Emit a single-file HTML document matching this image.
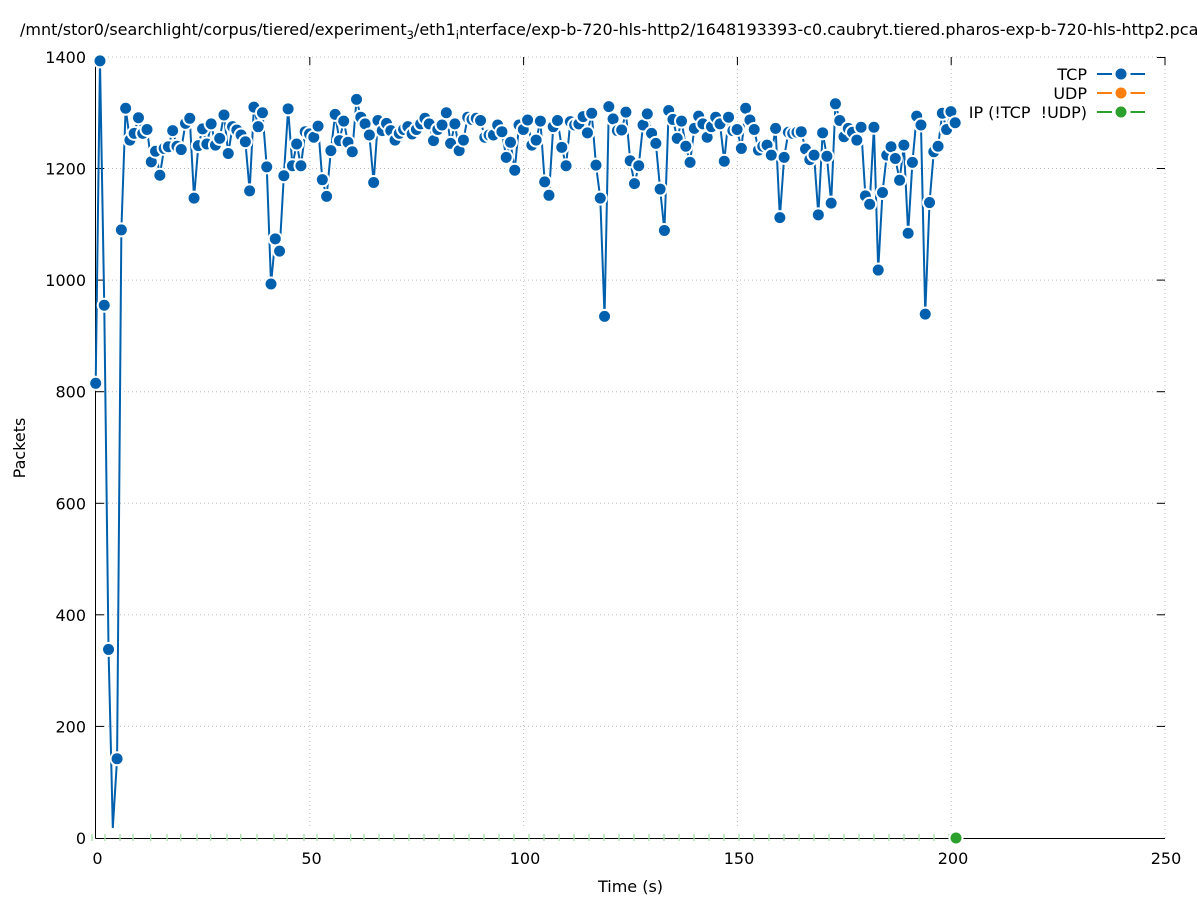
<!DOCTYPE html>
<html><head><meta charset="utf-8"><style>
html,body{margin:0;padding:0;background:#fff;overflow:hidden;width:1197px;height:900px}
svg{display:block}
text{font-family:"DejaVu Sans","Liberation Sans",sans-serif;font-size:16px;fill:#000}
</style></head><body>
<svg width="1197" height="900" viewBox="0 0 1197 900" xmlns="http://www.w3.org/2000/svg">
<defs>
<marker id="m" markerUnits="userSpaceOnUse" markerWidth="4" markerHeight="30" refX="0" refY="0" orient="0" overflow="visible" style="overflow:visible">
<ellipse cx="0" cy="0" rx="1.754" ry="13.443" fill="#fff"/>
<ellipse cx="0" cy="0" rx="1.286" ry="9.858" fill="#0060ad"/>
</marker>
</defs>
<rect width="1197" height="900" fill="#fff"/>
<g stroke="#bdbdbd" stroke-width="1" stroke-dasharray="1,3" fill="none">
<line x1="96" y1="57" x2="1165" y2="57"/>
<line x1="96" y1="168.5" x2="1165" y2="168.5"/>
<line x1="96" y1="280.1" x2="1165" y2="280.1"/>
<line x1="96" y1="391.7" x2="1165" y2="391.7"/>
<line x1="96" y1="503.3" x2="1165" y2="503.3"/>
<line x1="96" y1="614.8" x2="1165" y2="614.8"/>
<line x1="96" y1="726.4" x2="1165" y2="726.4"/>
<line x1="309.8" y1="57" x2="309.8" y2="826"/>
<line x1="523.6" y1="57" x2="523.6" y2="826"/>
<line x1="737.4" y1="57" x2="737.4" y2="826"/>
<line x1="951.2" y1="57" x2="951.2" y2="826"/>
<line x1="1165" y1="57" x2="1165" y2="838"/>
</g>
<g stroke="#000" stroke-width="1" fill="none">
<line x1="95.5" y1="57" x2="95.5" y2="838.5"/>
<line x1="95.5" y1="838.5" x2="1165" y2="838.5"/>
<line x1="96" y1="168.5" x2="104" y2="168.5"/>
<line x1="96" y1="280.1" x2="104" y2="280.1"/>
<line x1="96" y1="391.7" x2="104" y2="391.7"/>
<line x1="96" y1="503.3" x2="104" y2="503.3"/>
<line x1="96" y1="614.8" x2="104" y2="614.8"/>
<line x1="96" y1="726.4" x2="104" y2="726.4"/>
<line x1="96" y1="57.5" x2="104" y2="57.5"/>
<line x1="1165" y1="57.5" x2="1157" y2="57.5"/>
<line x1="1165" y1="168.5" x2="1157" y2="168.5"/>
<line x1="1165" y1="280.1" x2="1157" y2="280.1"/>
<line x1="1165" y1="391.7" x2="1157" y2="391.7"/>
<line x1="1165" y1="503.3" x2="1157" y2="503.3"/>
<line x1="1165" y1="614.8" x2="1157" y2="614.8"/>
<line x1="1165" y1="726.4" x2="1157" y2="726.4"/>
<line x1="309.8" y1="57" x2="309.8" y2="65"/>
<line x1="523.6" y1="57" x2="523.6" y2="65"/>
<line x1="737.4" y1="57" x2="737.4" y2="65"/>
<line x1="951.2" y1="57" x2="951.2" y2="65"/>
<line x1="1165" y1="57" x2="1165" y2="65"/>
</g>
<g stroke="#a6dca6" stroke-width="1.3" fill="none">
<path d="M92,834 v7 M105,834 v7 M120,834 v7 M133,834 v7 M150.7,834 v7 M167,834 v7 M180.7,834 v7 M197,834 v7 M210.7,834 v7 M227,834 v7 M240.7,834 v7 M257,834 v7 M274,834 v7 M287,834 v7 M304,834 v7 M317,834 v7 M334,834 v7 M350.7,834 v7 M364,834 v7 M379,834 v7 M394,834 v7 M409,834 v7 M424,834 v7 M439,834 v7 M454,834 v7 M469,834 v7 M484,834 v7 M499,834 v7 M514,834 v7 M529,834 v7 M544,834 v7 M559,834 v7 M574,834 v7 M589,834 v7 M604,834 v7 M619,834 v7 M634,834 v7 M649,834 v7 M664,834 v7 M679,834 v7 M694,834 v7 M709,834 v7 M724,834 v7 M739,834 v7 M754,834 v7 M769,834 v7 M784,834 v7 M799,834 v7 M814,834 v7 M829,834 v7 M844,834 v7 M859,834 v7 M874,834 v7 M889,834 v7 M904,834 v7 M919,834 v7 M934,834 v7 M949,834 v7"/>
</g>
<g text-anchor="end">
<text x="86" y="63">1400</text>
<text x="86" y="174.5">1200</text>
<text x="86" y="286">1000</text>
<text x="86" y="397.7">800</text>
<text x="86" y="509.3">600</text>
<text x="86" y="621">400</text>
<text x="86" y="732.4">200</text>
<text x="86" y="844">0</text>
</g>
<g text-anchor="middle">
<text x="97.5" y="864">0</text>
<text x="311.5" y="864">50</text>
<text x="525" y="864">100</text>
<text x="739" y="864">150</text>
<text x="953" y="864">200</text>
<text x="1166" y="864">250</text>
<text x="630.5" y="892">Time (s)</text>
<text transform="translate(25,448) rotate(-90)">Packets</text>
</g>
<text x="20" y="35">/mnt/stor0/searchlight/corpus/tiered/experiment<tspan font-size="11.5" dy="4">3</tspan><tspan dy="-4">/eth1</tspan><tspan font-size="11.5" dy="4">i</tspan><tspan dy="-4">nterface/exp-b-720-hls-http2/1648193393-c0.caubryt.tiered.pharos-exp-b-720-hls-http2.pcap</tspan></text>
<g transform="translate(95.7,838) scale(4.276,-0.5579)">
<polyline fill="none" stroke="#0060ad" stroke-width="2" vector-effect="non-scaling-stroke" stroke-linejoin="miter" stroke-miterlimit="4" points="0,815 1,1393 2,955 3,338 4,18 5,142 6,1090 7,1308 8,1251 9,1263 10,1291 11,1263 12,1270 13,1212 14,1231 15,1188 16,1236 17,1239 18,1268 19,1240 20,1234 21,1281 22,1290 23,1147 24,1241 25,1271 26,1244 27,1280 28,1242 29,1254 30,1296 31,1227 32,1275 33,1269 34,1260 35,1248 36,1160 37,1310 38,1275 39,1300 40,1203 41,993 42,1074 43,1052 44,1187 45,1307 46,1205 47,1244 48,1205 49,1266 50,1262 51,1256 52,1276 53,1180 54,1150 55,1232 56,1297 57,1250 58,1285 59,1247 60,1230 61,1324 62,1292 63,1280 64,1260 65,1175 66,1286 67,1268 68,1281 69,1268 70,1251 71,1263 72,1270 73,1275 74,1262 75,1270 76,1280 77,1290 78,1280 79,1250 80,1270 81,1278 82,1300 83,1245 84,1280 85,1232 86,1251 87,1292 88,1288 89,1290 90,1286 91,1256 92,1260 93,1260 94,1278 95,1266 96,1220 97,1247 98,1197 99,1278 100,1270 101,1287 102,1242 103,1251 104,1285 105,1176 106,1152 107,1275 108,1286 109,1238 110,1205 111,1284 112,1278 113,1280 114,1293 115,1264 116,1299 117,1206 118,1147 119,935 120,1311 121,1289 122,1268 123,1269 124,1301 125,1214 126,1173 127,1205 128,1278 129,1298 130,1263 131,1245 132,1163 133,1089 134,1304 135,1288 136,1254 137,1285 138,1240 139,1211 140,1272 141,1294 142,1280 143,1256 144,1275 145,1292 146,1280 147,1213 148,1292 149,1268 150,1270 151,1236 152,1308 153,1287 154,1270 155,1233 156,1240 157,1242 158,1224 159,1272 160,1112 161,1220 162,1265 163,1263 164,1265 165,1266 166,1235 167,1216 168,1224 169,1117 170,1264 171,1222 172,1138 173,1316 174,1286 175,1257 176,1272 177,1265 178,1251 179,1274 180,1151 181,1136 182,1274 183,1018 184,1157 185,1224 186,1239 187,1218 188,1179 189,1242 190,1084 191,1211 192,1294 193,1278 194,939 195,1139 196,1230 197,1240 198,1299 199,1270 200,1302 201,1282"/>
<polyline fill="none" stroke="none" marker-start="url(#m)" marker-mid="url(#m)" marker-end="url(#m)" points="0,815 1,1393 2,955 3,338 5,142 6,1090 7,1308 8,1251 9,1263 10,1291 11,1263 12,1270 13,1212 14,1231 15,1188 16,1236 17,1239 18,1268 19,1240 20,1234 21,1281 22,1290 23,1147 24,1241 25,1271 26,1244 27,1280 28,1242 29,1254 30,1296 31,1227 32,1275 33,1269 34,1260 35,1248 36,1160 37,1310 38,1275 39,1300 40,1203 41,993 42,1074 43,1052 44,1187 45,1307 46,1205 47,1244 48,1205 49,1266 50,1262 51,1256 52,1276 53,1180 54,1150 55,1232 56,1297 57,1250 58,1285 59,1247 60,1230 61,1324 62,1292 63,1280 64,1260 65,1175 66,1286 67,1268 68,1281 69,1268 70,1251 71,1263 72,1270 73,1275 74,1262 75,1270 76,1280 77,1290 78,1280 79,1250 80,1270 81,1278 82,1300 83,1245 84,1280 85,1232 86,1251 87,1292 88,1288 89,1290 90,1286 91,1256 92,1260 93,1260 94,1278 95,1266 96,1220 97,1247 98,1197 99,1278 100,1270 101,1287 102,1242 103,1251 104,1285 105,1176 106,1152 107,1275 108,1286 109,1238 110,1205 111,1284 112,1278 113,1280 114,1293 115,1264 116,1299 117,1206 118,1147 119,935 120,1311 121,1289 122,1268 123,1269 124,1301 125,1214 126,1173 127,1205 128,1278 129,1298 130,1263 131,1245 132,1163 133,1089 134,1304 135,1288 136,1254 137,1285 138,1240 139,1211 140,1272 141,1294 142,1280 143,1256 144,1275 145,1292 146,1280 147,1213 148,1292 149,1268 150,1270 151,1236 152,1308 153,1287 154,1270 155,1233 156,1240 157,1242 158,1224 159,1272 160,1112 161,1220 162,1265 163,1263 164,1265 165,1266 166,1235 167,1216 168,1224 169,1117 170,1264 171,1222 172,1138 173,1316 174,1286 175,1257 176,1272 177,1265 178,1251 179,1274 180,1151 181,1136 182,1274 183,1018 184,1157 185,1224 186,1239 187,1218 188,1179 189,1242 190,1084 191,1211 192,1294 193,1278 194,939 195,1139 196,1230 197,1240 198,1299 199,1270 200,1302 201,1282"/>
</g>
<circle cx="956" cy="838" r="7.5" fill="#fff"/>
<circle cx="956" cy="838" r="5.5" fill="#2ca02c"/>
<g text-anchor="end">
<text x="1087" y="80">TCP</text>
<text x="1087" y="99">UDP</text>
<text x="1087" y="118">IP (!TCP&#160; !UDP)</text>
</g>
<g stroke-width="2">
<line x1="1097" y1="74" x2="1112" y2="74" stroke="#0060ad"/>
<line x1="1130.5" y1="74" x2="1145" y2="74" stroke="#0060ad"/>
<line x1="1097" y1="93" x2="1112" y2="93" stroke="#ff7f0e"/>
<line x1="1130.5" y1="93" x2="1145" y2="93" stroke="#ff7f0e"/>
<line x1="1097" y1="112" x2="1112" y2="112" stroke="#2ca02c"/>
<line x1="1130.5" y1="112" x2="1145" y2="112" stroke="#2ca02c"/>
</g>
<circle cx="1121" cy="74" r="5.5" fill="#0060ad"/>
<circle cx="1121" cy="93" r="5.5" fill="#ff7f0e"/>
<circle cx="1121" cy="112" r="5.5" fill="#2ca02c"/>
</svg>
</body></html>
